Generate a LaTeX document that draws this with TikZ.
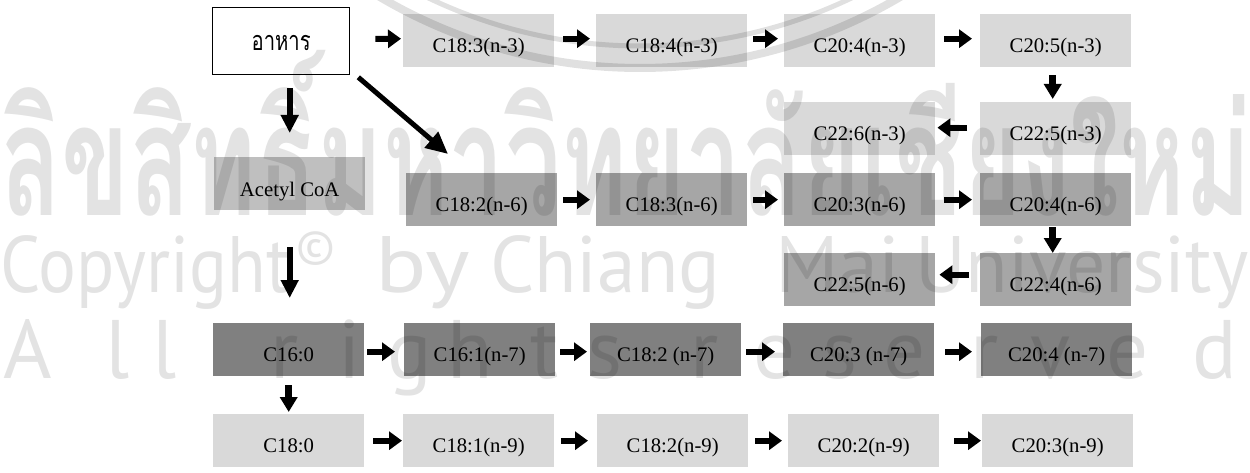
\documentclass[tikz,border=0pt]{standalone}
\usepackage{fontspec}
\usepackage{graphicx}
\setmainfont{Liberation Serif}
\newfontfamily\thaifont[Script=Thai]{Loma}
\newfontfamily\wmfont{PT Sans}
\usetikzlibrary{arrows.meta,calc}
\definecolor{lightbox}{HTML}{D9D9D9}
\definecolor{midbox}{HTML}{A6A6A6}
\definecolor{darkbox}{HTML}{808080}
\definecolor{acbox}{HTML}{BFBFBF}
\begin{document}
\begin{tikzpicture}[x=1pt,y=-1pt,
  box/.style={minimum width=151pt, minimum height=53pt, inner sep=0pt, anchor=north west,
    text height=24pt, text depth=0pt, font=\fontsize{20.7}{24}\selectfont},
  lbox/.style={box, fill=lightbox},
  mbox/.style={box, fill=midbox},
  dbox/.style={box, fill=darkbox},
  harr/.style={line width=6pt, -{Triangle[length=13pt,width=18pt]}},
  varr/.style={line width=7pt, -{Triangle[length=15pt,width=17pt]}},
  larr/.style={line width=6pt, -{Triangle[length=18pt,width=17pt]}},
  darr/.style={line width=5pt, -{Triangle[length=22pt,width=20pt]}},
  wmtext/.style={text=black, text opacity=0.11, inner sep=0pt},
  wmline/.style={draw=black, draw opacity=0.12}
]
\useasboundingbox (0,0) rectangle (1250,473);
\clip (0,0) rectangle (1250,473);
\fill[white] (0,0) rectangle (1250,473);

% boxes
\node[draw=black, line width=1.3pt, fill=white, minimum width=137pt, minimum height=67pt,
  inner sep=0pt, anchor=north west, text height=19pt, text depth=0pt,
  font=\thaifont\fontsize{27}{30}\selectfont] (food) at (212,7) {\scalebox{0.75}[1]{อาหาร}};
\node[lbox] (c183n3) at (403,14) {C18:3(n-3)};
\node[lbox] (c184n3) at (596,14) {C18:4(n-3)};
\node[lbox] (c204n3) at (784,14) {C20:4(n-3)};
\node[lbox] (c205n3) at (980,14) {C20:5(n-3)};
\node[lbox] (c226n3) at (784,102) {C22:6(n-3)};
\node[lbox] (c225n3) at (980,102) {C22:5(n-3)};
\node[box, fill=acbox, text height=26pt] (acetyl) at (214,157) {Acetyl CoA};
\node[mbox] (c182n6) at (406,173) {C18:2(n-6)};
\node[mbox] (c183n6) at (596,173) {C18:3(n-6)};
\node[mbox] (c203n6) at (784,173) {C20:3(n-6)};
\node[mbox] (c204n6) at (980,173) {C20:4(n-6)};
\node[mbox] (c225n6) at (784,253) {C22:5(n-6)};
\node[mbox] (c224n6) at (980,253) {C22:4(n-6)};
\node[dbox] (c160) at (213,323) {C16:0};
\node[dbox] (c161n7) at (404,323) {C16:1(n-7)};
\node[dbox] (c182n7) at (590,323) {C18:2 (n-7)};
\node[dbox] (c203n7) at (783,323) {C20:3 (n-7)};
\node[dbox] (c204n7) at (981,323) {C20:4 (n-7)};
\node[lbox] (c180) at (213,414) {C18:0};
\node[lbox] (c181n9) at (403,414) {C18:1(n-9)};
\node[lbox] (c182n9) at (597,414) {C18:2(n-9)};
\node[lbox] (c202n9) at (788,414) {C20:2(n-9)};
\node[lbox] (c203n9) at (982,414) {C20:3(n-9)};

% row n-3
\draw[harr, shorten <=25pt, shorten >=2pt] ([yshift=2pt]food.east) -- ([yshift=2pt]c183n3.west);
\draw[harr, shorten <=9pt, shorten >=6pt] ([yshift=2pt]c183n3.east) -- ([yshift=2pt]c184n3.west);
\draw[harr, shorten <=6pt, shorten >=6pt] ([yshift=2pt]c184n3.east) -- ([yshift=2pt]c204n3.west);
\draw[harr, shorten <=9pt, shorten >=8pt] ([yshift=2pt]c204n3.east) -- ([yshift=2pt]c205n3.west);
\draw[varr, shorten <=8pt, shorten >=3pt] ([xshift=-3pt]c205n3.south) -- ([xshift=-3pt]c225n3.north);
\draw[harr, shorten <=13pt, shorten >=2pt] ([yshift=1pt]c225n3.west) -- ([yshift=1pt]c226n3.east);
% food
\draw[larr, shorten <=13pt, shorten >=24pt] (food.south -| acetyl.north) -- (acetyl.north);
\draw[darr] ($(food.south east)+(8,2)$) -- ($(c182n6.north west)+(42,-19)$);
% row n-6
\draw[harr, shorten <=6pt, shorten >=6pt] (c182n6.east) -- (c183n6.west);
\draw[harr, shorten <=6pt, shorten >=6pt] (c183n6.east) -- (c203n6.west);
\draw[harr, shorten <=9pt, shorten >=8pt] (c203n6.east) -- (c204n6.west);
\draw[varr, shorten <=1pt, shorten >=0pt] ([xshift=-3pt]c204n6.south) -- ([xshift=-3pt]c224n6.north);
\draw[harr, shorten <=11pt, shorten >=4pt] ([yshift=5pt]c224n6.west) -- ([yshift=5pt]c225n6.east);
% acetyl -> C16:0 -> C18:0
\draw[larr, shorten <=37pt, shorten >=25pt] (acetyl.south) -- (acetyl.south |- c160.north);
\draw[varr, shorten <=9pt, shorten >=2pt] (c160.south) -- (c180.north);
% row n-7
\draw[harr, shorten <=3pt, shorten >=9pt] ([yshift=-2pt]c160.east) -- ([yshift=-2pt]c161n7.west);
\draw[harr, shorten <=5pt, shorten >=3pt] ([yshift=-2pt]c161n7.east) -- ([yshift=-2pt]c182n7.west);
\draw[harr, shorten <=5pt, shorten >=8pt] ([yshift=-2pt]c182n7.east) -- ([yshift=-2pt]c203n7.west);
\draw[harr, shorten <=11pt, shorten >=9pt] ([yshift=-2pt]c203n7.east) -- ([yshift=-2pt]c204n7.west);
% row n-9
\draw[harr, shorten <=9pt, shorten >=1pt] (c180.east) -- (c181n9.west);
\draw[harr, shorten <=7pt, shorten >=9pt] (c181n9.east) -- (c182n9.west);
\draw[harr, shorten <=7pt, shorten >=6pt] (c182n9.east) -- (c202n9.west);
\draw[harr, shorten <=15pt, shorten >=1pt] (c202n9.east) -- (c203n9.west);

% watermark
\coordinate (sealc) at (640,-444);
\draw[wmline, line width=8pt] ([shift={(122:512)}]sealc) arc[start angle=122, end angle=58, radius=512];
\draw[wmline, line width=5pt] ([shift={(120:490)}]sealc) arc[start angle=120, end angle=60, radius=490];
\node[wmtext, anchor=base west] (wmthai) at (0,215)
  {\resizebox{1250pt}{165pt}{\thaifont\bfseries ลิขสิทธิ์มหาวิทยาลัยเชียงใหม่}};
\node[wmtext, anchor=base west] (wmcopy) at (0,292)
  {\resizebox{290pt}{\height}{\wmfont\fontsize{80}{80}\selectfont Copyright}};
\node[wmtext, anchor=base west] (wmc) at (296,262)
  {\wmfont\fontsize{48}{48}\selectfont ©};
\node[wmtext, anchor=base west] (wmby) at (375,292)
  {\resizebox{95pt}{\height}{\wmfont\fontsize{80}{80}\selectfont by}};
\node[wmtext, anchor=base west] (wmchiang) at (490,292)
  {\resizebox{230pt}{\height}{\wmfont\fontsize{80}{80}\selectfont Chiang}};
\node[wmtext, anchor=base west] (wmmai) at (775,292)
  {\resizebox{125pt}{\height}{\wmfont\fontsize{80}{80}\selectfont Mai}};
\node[wmtext, anchor=base west] (wmuniv) at (915,292)
  {\resizebox{333pt}{\height}{\wmfont\fontsize{80}{80}\selectfont University}};
\foreach \ch/\xx [count=\k] in {A/28, l/118, l/165, r/285, i/350, g/410, h/470, t/545, s/605,
    r/705, e/775, s/840, e/905, r/985, v/1050, e/1128, d/1215}
  \node[wmtext, anchor=base, font=\wmfont\fontsize{83}{83}\selectfont] (wmr\k) at (\xx,378) {\ch};
\end{tikzpicture}
\end{document}
